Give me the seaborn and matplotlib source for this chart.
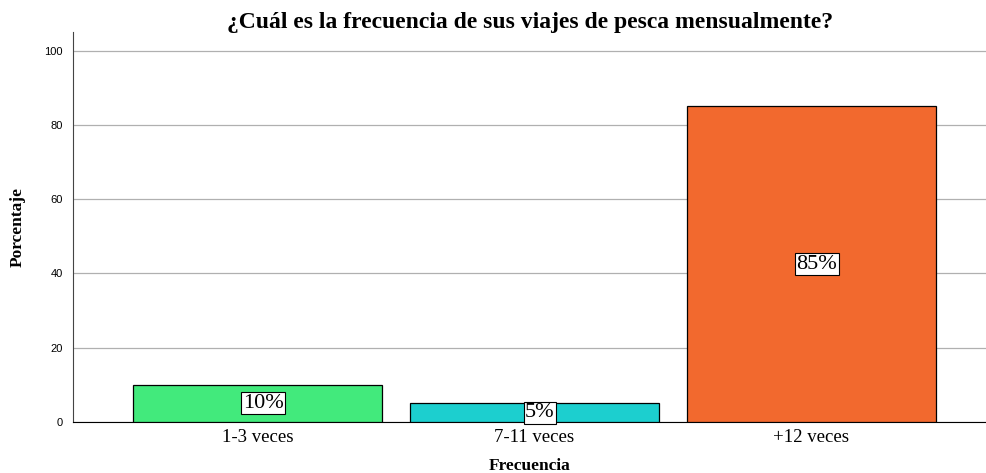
import matplotlib
matplotlib.use("Agg")
import matplotlib.pyplot as plt
import seaborn as sns
import pandas as pd

# Data
categorias = ["1-3 veces", "7-11 veces", "+12 veces"]
porcentajes = [10, 5, 85]
etiquetas = ["10%", "5%", "85%"]
colores = ["#42EA7C", "#1CCFCF", "#F2692E"]

df = pd.DataFrame({"Frecuencia": categorias, "Porcentaje": porcentajes})

sns.set_style("white")
plt.rcParams["font.family"] = ["Liberation Serif", "DejaVu Serif"]
plt.rcParams["text.color"] = "black"
plt.rcParams["axes.labelcolor"] = "black"
plt.rcParams["xtick.color"] = "black"
plt.rcParams["ytick.color"] = "black"

fig = plt.figure(figsize=(9.87, 4.73), dpi=100)
ax = fig.add_axes([0.074, 0.108, 0.926, 0.824])

sns.barplot(data=df, x="Frecuencia", y="Porcentaje", hue="Frecuencia",
            palette=colores, saturation=1, width=0.9, edgecolor="black",
            linewidth=0.9, legend=False, ax=ax, zorder=3)

ax.set_ylim(0, 105)
ax.set_xlim(-0.666, 2.634)
ax.set_yticks([0, 20, 40, 60, 80, 100])
ax.yaxis.grid(True, color="#b0b0b0", linewidth=0.9, zorder=0)
ax.set_axisbelow(True)

for s in ["top", "right"]:
    ax.spines[s].set_visible(False)
ax.spines["left"].set_color("#444444")
ax.spines["bottom"].set_color("black")

# labels in the middle of each bar
for i, (v, t) in enumerate(zip(porcentajes, etiquetas)):
    ax.text(i + 0.02, v / 2, t, ha="center", va="center", fontsize=16,
            bbox=dict(facecolor="white", edgecolor="black", linewidth=0.8, pad=1.2),
            zorder=5)

ax.tick_params(axis="y", labelsize=8, length=4, width=0.8, color="#444444")
for lbl in ax.get_yticklabels():
    lbl.set_family(["Liberation Sans", "DejaVu Sans"])
ax.tick_params(axis="x", labelsize=13.5, length=0, pad=5)

ax.set_xlabel("Frecuencia", fontsize=12.5, fontweight="bold")
ax.set_ylabel("Porcentaje", fontsize=12.5, fontweight="bold")
ax.xaxis.set_label_coords(0.5, -0.092)
ax.yaxis.set_label_coords(-0.052, 0.5)
ax.set_title("¿Cuál es la frecuencia de sus viajes de pesca mensualmente?",
             fontsize=17, fontweight="bold", pad=3)

fig.savefig("out.png", dpi=100)
